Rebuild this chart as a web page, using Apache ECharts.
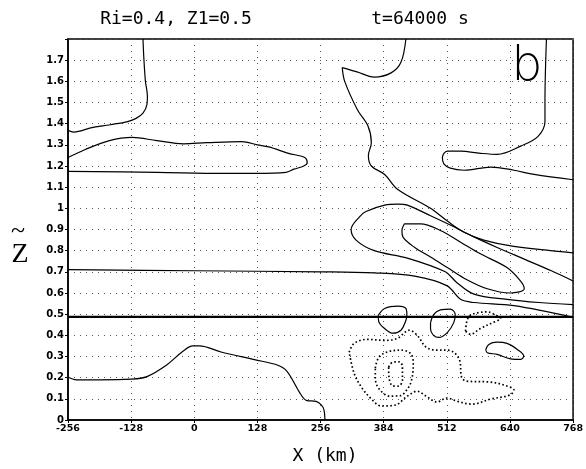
<!DOCTYPE html>
<html>
<head>
<meta charset="utf-8">
<script src="https://cdn.jsdelivr.net/npm/echarts@6/dist/echarts.min.js"></script>
<style>html,body{margin:0;padding:0;background:#fff}#c{width:586px;height:469px}</style>
</head>
<body>
<div id="c"></div>
<script>
// ---- axis ticks ----
var xTicks = [-256, -128, 0, 128, 256, 384, 512, 640, 768];
var yTickLabels = ['0','0.1','0.2','0.3','0.4','0.5','0.6','0.7','0.8','0.9','1','1.1','1.2','1.3','1.4','1.5','1.6','1.7',''];

// ---- solid contours (x in km, Z) ----
var cTopLeft = [[-104,1.8],[-102,1.7],[-99,1.6],[-95,1.53],[-96,1.49],[-104,1.45],[-118,1.425],[-135,1.41],[-170,1.395],[-210,1.38],[-232,1.365],[-245,1.36],[-252,1.365],[-256,1.37]];
var cLens = [[-256,1.24],[-222,1.277],[-172,1.32],[-126,1.335],[-76,1.32],[-22,1.305],[25,1.31],[96,1.315],[128,1.30],[151,1.29],[191,1.26],[224,1.24],[229,1.215],[222,1.20],[202,1.185],[186,1.17],[125,1.165],[59,1.165],[-76,1.17],[-256,1.175]];
var cDiag = [[429,1.8],[419,1.69],[399,1.64],[365,1.62],[330,1.645],[300,1.665],[305,1.6],[331,1.465],[352,1.39],[359,1.31],[353,1.25],[359,1.2],[386,1.16],[412,1.09],[479,1.0],[513,0.94],[547,0.887],[587,0.85],[648,0.82],[768,0.79]];
var cRightTop = [[714,1.8],[711,1.505],[711,1.41],[697,1.34],[663,1.295],[614,1.255],[580,1.26],[540,1.27],[513,1.27],[503,1.24],[506,1.21],[519,1.19],[547,1.18],[601,1.195],[648,1.18],[689,1.16],[768,1.135]];
var cNose = [[768,0.657],[724,0.705],[669,0.76],[614,0.815],[567,0.865],[520,0.92],[479,0.965],[432,1.015],[413,1.02],[386,1.015],[348,0.985],[335,0.96],[318,0.90],[328,0.85],[365,0.80],[432,0.765],[509,0.70],[532,0.65],[567,0.595],[634,0.57],[699,0.555],[768,0.545]];
var cInner = [[426,0.927],[459,0.927],[499,0.895],[540,0.84],[580,0.785],[634,0.72],[662,0.655],[669,0.62],[641,0.60],[594,0.62],[547,0.67],[513,0.72],[479,0.77],[447,0.815],[423,0.865],[421,0.895],[426,0.927]];
var cLevel07 = [[-256,0.71],[0,0.705],[256,0.70],[365,0.695],[447,0.68],[512,0.635],[540,0.57],[567,0.555],[648,0.54],[768,0.485]];
var cInterface = [[-256,0.487],[768,0.487]];
var cBottomLeft = [[-256,0.203],[-239,0.19],[-192,0.19],[-127,0.193],[-96,0.205],[-56,0.26],[-23,0.325],[-3,0.35],[10,0.35],[56,0.32],[122,0.285],[168,0.26],[188,0.23],[214,0.128],[227,0.093],[247,0.088],[258,0.07],[263,0.047],[265,0]];
var cLoop1 = [[373,0.495],[386,0.527],[413,0.538],[429,0.527],[431,0.495],[429,0.47],[419,0.424],[403,0.41],[386,0.432],[374,0.465],[373,0.495]];
var cLoop2 = [[479,0.46],[486,0.50],[499,0.52],[519,0.524],[529,0.50],[526,0.46],[513,0.413],[496,0.39],[485,0.40],[479,0.43],[479,0.46]];
var cLoop3 = [[591,0.333],[597,0.357],[614,0.368],[634,0.362],[655,0.333],[668,0.302],[662,0.286],[641,0.289],[614,0.31],[594,0.318],[591,0.333]];

// ---- dotted (negative) contours ----
var dSmall = [[550,0.42],[553,0.47],[560,0.495],[574,0.506],[594,0.511],[607,0.50],[621,0.48],[601,0.456],[580,0.432],[560,0.405],[550,0.42]];
var dOuter = [[314,0.32],[324,0.362],[351,0.381],[386,0.376],[412,0.386],[436,0.424],[452,0.40],[470,0.344],[492,0.33],[512,0.33],[526,0.32],[538,0.282],[542,0.202],[551,0.184],[601,0.179],[628,0.165],[648,0.141],[640,0.118],[601,0.099],[563,0.075],[532,0.089],[512,0.104],[492,0.085],[470,0.113],[452,0.136],[432,0.113],[408,0.071],[379,0.066],[359,0.099],[339,0.155],[324,0.221],[314,0.32]];
var dMiddle = [[367,0.245],[374,0.296],[392,0.322],[420,0.33],[440,0.31],[444,0.254],[440,0.184],[432,0.146],[418,0.115],[396,0.113],[375,0.146],[367,0.198],[367,0.245]];
var dInner = [[394,0.25],[402,0.273],[416,0.275],[422,0.25],[422,0.188],[414,0.16],[402,0.162],[395,0.198],[394,0.25]];

var solid = [cTopLeft, cLens, cDiag, cRightTop, cNose, cInner, cLevel07, cBottomLeft, cLoop1, cLoop2, cLoop3];
var dotted = [dSmall, dOuter, dMiddle, dInner];

var series = [];
solid.forEach(function (d) {
  series.push({type:'line', data:d, smooth:0.35, showSymbol:false, silent:true,
    lineStyle:{color:'#000', width:1.2}});
});
dotted.forEach(function (d) {
  series.push({type:'line', data:d, smooth:0.35, showSymbol:false, silent:true,
    lineStyle:{color:'#000', width:1.7, type:[1.6,2.4]}});
});
series.push({type:'line', data:cInterface, showSymbol:false, silent:true,
  lineStyle:{color:'#000', width:2.2}});

var chart = echarts.init(document.getElementById('c'), null, {renderer:'canvas'});
chart.setOption({
  animation:false,
  backgroundColor:'#fff',
  grid:{left:68, top:39, width:510, height:381, show:true, borderColor:'#000', borderWidth:1.5, backgroundColor:'transparent'},
  xAxis:{type:'value', min:xTicks[0], max:xTicks[xTicks.length-1], interval:128,
    axisLine:{show:true, onZero:false, lineStyle:{color:'#000', width:1.5}},
    axisTick:{show:true, length:3, lineStyle:{color:'#000'}},
    axisLabel:{color:'#000', fontFamily:'DejaVu Sans', fontWeight:'bold', fontSize:9.5, margin:4,
      formatter:function(v){ return xTicks.indexOf(v) >= 0 ? String(v) : ''; }},
    splitLine:{show:true, lineStyle:{color:'#555', width:1, type:[1,5]}}},
  yAxis:{type:'value', min:0, max:1.8, interval:0.1,
    axisLine:{show:true, onZero:false, lineStyle:{color:'#000', width:1.5}},
    axisTick:{show:true, length:3, lineStyle:{color:'#000'}},
    axisLabel:{color:'#000', fontFamily:'DejaVu Sans', fontWeight:'bold', fontSize:10, margin:4,
      formatter:function(v){ var i = Math.round(v*10); return yTickLabels[i] || ''; }},
    splitLine:{show:true, lineStyle:{color:'#555', width:1, type:[1,5]}}},
  graphic:[
    {type:'text', style:{text:'Ri=0.4, Z1=0.5', x:176, y:19, align:'center', verticalAlign:'middle', font:'18px "DejaVu Sans Mono"', fill:'#000'}},
    {type:'text', style:{text:'t=64000 s', x:420, y:19, align:'center', verticalAlign:'middle', font:'18px "DejaVu Sans Mono"', fill:'#000'}},
    {type:'text', style:{text:'X (km)', x:325, y:456, align:'center', verticalAlign:'middle', font:'18px "DejaVu Sans Mono"', fill:'#000'}},
    {type:'text', style:{text:'Z', x:20, y:255, align:'center', verticalAlign:'middle', font:'28px "Liberation Serif"', fill:'#000'}},
    {type:'text', style:{text:'~', x:18, y:231, align:'center', verticalAlign:'middle', font:'26px "Liberation Serif"', fill:'#000'}},
    {type:'text', z:10, style:{text:'b', x:527, y:41, align:'center', verticalAlign:'top', font:'200 49px Inter', fill:'#000'}}
  ],
  series:series
});
</script>
</body>
</html>
